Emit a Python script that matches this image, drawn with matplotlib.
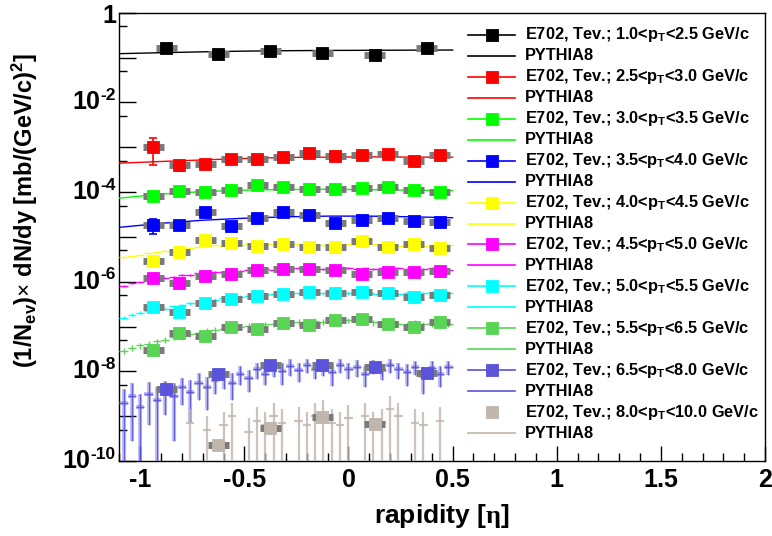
import numpy as np
import matplotlib
matplotlib.use("Agg")
import matplotlib.pyplot as plt
from matplotlib.ticker import LogLocator, MultipleLocator, FuncFormatter, NullFormatter

plt.rcParams["font.family"] = ["Liberation Sans", "DejaVu Sans"]
plt.rcParams["font.weight"] = "bold"
plt.rcParams["mathtext.fontset"] = "custom"
plt.rcParams["mathtext.rm"] = "Liberation Serif"
plt.rcParams["mathtext.bf"] = "Liberation Sans:bold"
plt.rcParams["mathtext.it"] = "Liberation Sans:italic"
plt.rcParams["mathtext.sf"] = "Liberation Sans"

# --- pT bins and colours (ROOT colours 1..9, 11)
pt_ranges = ["1.0<p$_\\mathbf{T}$<2.5", "2.5<p$_\\mathbf{T}$<3.0", "3.0<p$_\\mathbf{T}$<3.5",
             "3.5<p$_\\mathbf{T}$<4.0", "4.0<p$_\\mathbf{T}$<4.5", "4.5<p$_\\mathbf{T}$<5.0",
             "5.0<p$_\\mathbf{T}$<5.5", "5.5<p$_\\mathbf{T}$<6.5", "6.5<p$_\\mathbf{T}$<8.0",
             "8.0<p$_\\mathbf{T}$<10.0"]
colors = ["#000000", "#ff0000", "#00ff00", "#0000ff", "#ffff00", "#ff00ff",
          "#00ffff", "#59d454", "#5954d9", "#c0b6ac"]

# --- E702 data points
x_coarse = [-0.875, -0.625, -0.375, -0.125, 0.125, 0.375]
x_fine = [-0.9375, -0.8125, -0.6875, -0.5625, -0.4375, -0.3125,
          -0.1875, -0.0625, 0.0625, 0.1875, 0.3125, 0.4375]
x_last = [-0.625, -0.375, -0.125, 0.125]

e702_black = [0.161, 0.118, 0.142, 0.128, 0.112, 0.161]
e702_red = [9.9e-4, 4.0e-4, 4.2e-4, 5.45e-4, 5.45e-4, 5.94e-4, 7.3e-4, 6.35e-4, 6.7e-4, 7.05e-4, 5.0e-4, 6.8e-4]
e702_green = [8.15e-5, 1.07e-4, 9.85e-5, 1.11e-4, 1.41e-4, 1.29e-4, 1.15e-4, 1.15e-4, 1.25e-4, 1.29e-4, 1.11e-4, 9.85e-5]
e702_blue = [1.84e-5, 1.84e-5, 3.64e-5, 1.75e-5, 2.67e-5, 3.64e-5, 3.07e-5, 2.04e-5, 2.38e-5, 2.59e-5, 2.26e-5, 2.18e-5]
e702_yellow = [2.94e-6, 4.52e-6, 8.5e-6, 7.18e-6, 6.25e-6, 6.82e-6, 6.03e-6, 6.03e-6, 8.2e-6, 6.03e-6, 6.92e-6, 5.55e-6]
e702_magenta = [1.19e-6, 9.5e-7, 1.34e-6, 1.48e-6, 1.82e-6, 1.95e-6, 1.92e-6, 1.82e-6, 1.48e-6, 1.67e-6, 1.64e-6, 1.76e-6]
e702_cyan = [2.77e-7, 2.14e-7, 3.3e-7, 4.11e-7, 4.87e-7, 5.31e-7, 5.8e-7, 5.5e-7, 5.98e-7, 5.68e-7, 4.62e-7, 5.05e-7]
e702_green2 = [2.99e-8, 7.05e-8, 6.24e-8, 9.9e-8, 8.67e-8, 1.22e-7, 1.08e-7, 1.4e-7, 1.47e-7, 1.12e-7, 9.6e-8, 1.24e-7]
e702_purple = [4.04e-9, 8.7e-9, 1.38e-8, 1.38e-8, 1.23e-8, 9.3e-9]
e702_grey = [2.28e-10, 5.37e-10, 9.45e-10, 6.6e-10]

# visible vertical errors on a few points (absolute)
e702_red_err = [5.8e-4, 1.0e-4, 0, 0, 0, 0, 0, 0, 0, 0, 0, 0]
e702_blue_err = [7e-6, 0, 0, 0, 0, 0, 0, 0, 0, 0, 0, 0]

# --- PYTHIA8, smooth curves
py_x_sparse = [-1.1, -0.9, -0.7, -0.5, -0.3, -0.1, 0.1, 0.3, 0.5]
py_black = [0.122, 0.128, 0.134, 0.139, 0.142, 0.144, 0.145, 0.146, 0.147]
py_red = [4.4e-4, 4.8e-4, 5.2e-4, 5.6e-4, 5.9e-4, 6.0e-4, 6.1e-4, 6.0e-4, 6.0e-4]
py_green = [7.3e-5, 9.0e-5, 1.02e-4, 1.10e-4, 1.14e-4, 1.15e-4, 1.13e-4, 1.10e-4, 1.07e-4]
py_blue = [1.63e-5, 2.0e-5, 2.35e-5, 2.6e-5, 2.8e-5, 2.9e-5, 2.9e-5, 2.8e-5, 2.67e-5]

# --- PYTHIA8, binned (bin width 0.04, centres -1.08 ... 0.48), log10 values
py_bin_x = [-1.08, -1.04, -1.00, -0.96, -0.92, -0.88, -0.84, -0.80, -0.76, -0.72,
            -0.68, -0.64, -0.60, -0.56, -0.52, -0.48, -0.44, -0.40, -0.36, -0.32,
            -0.28, -0.24, -0.20, -0.16, -0.12, -0.08, -0.04, 0.00, 0.04, 0.08,
            0.12, 0.16, 0.20, 0.24, 0.28, 0.32, 0.36, 0.40, 0.44, 0.48]
py_yellow_log = [-5.44, -5.42, -5.40, -5.37, -5.34, -5.31, -5.29, -5.26, -5.24, -5.22,
                 -5.21, -5.19, -5.20, -5.18, -5.19, -5.17, -5.18, -5.17, -5.16, -5.18,
                 -5.17, -5.16, -5.18, -5.17, -5.18, -5.16, -5.18, -5.17, -5.19, -5.18,
                 -5.17, -5.19, -5.18, -5.20, -5.19, -5.18, -5.20, -5.19, -5.21, -5.19]
py_magenta_log = [-6.09, -6.04, -6.00, -5.97, -5.95, -5.91, -5.90, -5.86, -5.85, -5.81,
                  -5.82, -5.78, -5.79, -5.76, -5.77, -5.74, -5.75, -5.72, -5.73, -5.71,
                  -5.72, -5.70, -5.72, -5.69, -5.71, -5.70, -5.68, -5.70, -5.72, -5.69,
                  -5.71, -5.69, -5.71, -5.70, -5.72, -5.70, -5.71, -5.69, -5.71, -5.73]
py_cyan_log = [-6.80, -6.74, -6.69, -6.66, -6.61, -6.60, -6.55, -6.53, -6.48, -6.47,
               -6.42, -6.40, -6.37, -6.36, -6.34, -6.33, -6.31, -6.30, -6.28, -6.29,
               -6.27, -6.26, -6.27, -6.25, -6.26, -6.24, -6.26, -6.25, -6.23, -6.25,
               -6.27, -6.24, -6.26, -6.28, -6.25, -6.27, -6.26, -6.24, -6.26, -6.25]
py_green2_log = [-7.54, -7.47, -7.42, -7.38, -7.33, -7.30, -7.24, -7.22, -7.17, -7.15,
                 -7.10, -7.08, -7.06, -7.03, -7.01, -6.99, -6.98, -6.95, -6.94, -6.92,
                 -6.93, -6.90, -6.91, -6.88, -6.90, -6.87, -6.89, -6.86, -6.90, -6.88,
                 -6.91, -6.93, -6.90, -6.94, -6.96, -6.92, -6.95, -6.93, -6.96, -6.94]
py_purple_log = [-8.70, -8.55, -8.80, -8.50, -8.65, -8.45, -8.55, -8.35, -8.45, -8.25,
                 -8.35, -8.20, -8.10, -8.25, -8.05, -8.15, -7.95, -8.05, -7.90, -8.00,
                 -7.88, -7.98, -7.85, -7.95, -7.88, -8.02, -7.86, -7.95, -7.90, -8.05,
                 -7.88, -7.98, -7.86, -7.95, -8.02, -7.90, -8.10, -7.92, -8.05, -7.90]
py_purple_relerr = [1.0, 0.9, 1.0, 0.8, 1.0, 0.7, 0.9, 0.6, 0.8, 0.6,
                    0.7, 0.5, 0.5, 0.6, 0.45, 0.5, 0.4, 0.45, 0.4, 0.5,
                    0.4, 0.45, 0.35, 0.4, 0.4, 0.5, 0.35, 0.4, 0.4, 0.5,
                    0.35, 0.4, 0.35, 0.4, 0.5, 0.35, 0.6, 0.4, 0.5, 0.35]
nan = float("nan")
py_grey_log = [nan, nan, nan, nan, nan, nan, nan, nan, -9.15, nan,
               -9.30, nan, -9.20, -9.00, nan, -9.35, -9.10, -9.20, -9.00, -9.15,
               nan, -9.10, -9.20, -9.00, -8.95, -9.15, -9.20, -9.05, nan, -9.00,
               -9.20, -9.15, -8.85, -9.00, nan, -9.15, -9.20, nan, -9.10, nan]
relerr_small = {"yellow": 0.03, "magenta": 0.05, "cyan": 0.08, "green2": 0.15, "grey": 1.0}

# y tick labels (only even decades are labelled)
ytick_decades = [0, -2, -4, -6, -8, -10]

# --- figure
fig = plt.figure(figsize=(7.72, 5.36), dpi=100)
W, H = 772, 536
x0, x1, ytop, ybot = 119.4, 765, 12.7, 461
ax = fig.add_axes([x0 / W, 1 - ybot / H, (x1 - x0) / W, (ybot - ytop) / H])
ax.set_yscale("log")
ax.set_xlim(-1.1, 2.0)
ax.set_ylim(1e-10, 1)

grey_bar = "#7a7a7a"


def draw_e702(xs, ys, color, yerr=None):
    ax.errorbar(xs, ys, xerr=0.05, fmt="none", ecolor=grey_bar, elinewidth=5, zorder=4)
    if yerr is not None:
        ax.errorbar(xs, ys, yerr=yerr, fmt="none", ecolor=color, elinewidth=1.2,
                    capsize=3, capthick=1.2, zorder=4)
    ax.plot(xs, ys, "s", color=color, ms=9, mew=0.6, mec=color, zorder=5)


def draw_binned(log_vals, color, relerr, lw=1.0, alpha=1.0):
    y = 10 ** np.array(log_vals)
    rel = np.array(relerr) * np.ones_like(y)
    up = y * rel
    lo = y * np.minimum(rel, 0.999)
    ax.errorbar(py_bin_x, y, xerr=0.02, yerr=[lo, up], fmt="none", ecolor=color,
                elinewidth=lw, alpha=alpha, zorder=3)


# PYTHIA smooth
for vals, c in zip([py_black, py_red, py_green, py_blue], colors[:4]):
    ax.plot(py_x_sparse, vals, "-", color=c, lw=1.0, zorder=3)

draw_binned(py_yellow_log, colors[4], relerr_small["yellow"])
draw_binned(py_magenta_log, colors[5], relerr_small["magenta"])
draw_binned(py_cyan_log, colors[6], relerr_small["cyan"])
draw_binned(py_green2_log, colors[7], relerr_small["green2"])
draw_binned(py_purple_log, colors[8], py_purple_relerr, lw=3, alpha=0.35)
draw_binned(py_purple_log, colors[8], py_purple_relerr, lw=1.0, alpha=0.9)
draw_binned(py_grey_log, colors[9], relerr_small["grey"], lw=1.6, alpha=0.8)

# E702
draw_e702(x_coarse, e702_black, colors[0])
draw_e702(x_fine, e702_red, colors[1], e702_red_err)
draw_e702(x_fine, e702_green, colors[2])
draw_e702(x_fine, e702_blue, colors[3], e702_blue_err)
draw_e702(x_fine, e702_yellow, colors[4])
draw_e702(x_fine, e702_magenta, colors[5])
draw_e702(x_fine, e702_cyan, colors[6])
draw_e702(x_fine, e702_green2, colors[7])
draw_e702(x_coarse, e702_purple, colors[8])
draw_e702(x_last, e702_grey, colors[9])

# --- axes style (ROOT look)
ax.xaxis.set_major_locator(MultipleLocator(0.5))
ax.xaxis.set_minor_locator(MultipleLocator(0.1))
ax.xaxis.set_major_formatter(FuncFormatter(lambda v, p: f"{v:g}"))
ax.yaxis.set_major_locator(LogLocator(base=10, numticks=30))
ax.yaxis.set_minor_locator(LogLocator(base=10, subs=[5], numticks=30))
ax.yaxis.set_major_formatter(NullFormatter())
ax.yaxis.set_minor_formatter(NullFormatter())
ax.tick_params(which="both", direction="in", top=False, right=False, width=1)
ax.tick_params(axis="x", labelsize=18)
ax.tick_params(axis="y", which="major", length=12)
ax.tick_params(axis="y", which="minor", length=6)
ax.tick_params(axis="x", which="major", length=11, pad=5)
ax.tick_params(axis="x", which="minor", length=6)
for s in ax.spines.values():
    s.set_linewidth(1.0)

# y labels ROOT style: "10" with a small exponent, right aligned near the axis
ylab_tr = ax.get_yaxis_transform()
for e in ytick_decades:
    if e == 0:
        ax.annotate("1", xy=(0, 10.0 ** e), xycoords=ylab_tr, xytext=(-3, -3),
                    textcoords="offset pixels", fontsize=18, ha="right", va="center",
                    annotation_clip=False)
        continue
    ex = ax.annotate(str(e), xy=(0, 10.0 ** e), xycoords=ylab_tr,
                     xytext=(-4, 7), textcoords="offset pixels",
                     fontsize=12.5, ha="right", va="center", annotation_clip=False)
    ax.annotate("10", xy=(0, 0.5), xycoords=ex, xytext=(0, -7), textcoords="offset pixels",
                fontsize=18, ha="right", va="center", annotation_clip=False)

fig.text(442 / W, 1 - 516 / H, "rapidity [$\\mathrm{\\eta}$]", fontsize=19,
         ha="center", va="center")
fig.text(25 / W, 1 - 210 / H,
         "(1/N$_{\\mathbf{ev}}$)$\\times$ dN/dy [mb/(GeV/c)$^{\\mathbf{2}}$]",
         fontsize=17, rotation=90, ha="center", va="center")


# --- legend drawn by hand (ROOT TLegend, no border)
def px2ax(px, py):
    return (px - x0) / (x1 - x0), 1 - (py - ytop) / (ybot - ytop)


for i in range(10):
    for k in range(2):
        py = 35 + 20.95 * (2 * i + k)
        xa, ya = px2ax(468, py)
        xb, _ = px2ax(515, py)
        xm, _ = px2ax(491.7, py)
        xt, _ = px2ax(525, py)
        c = colors[i]
        if k == 0:
            if i < 9:
                ax.plot([xa, xb], [ya, ya], "-", color=c, lw=1.2, transform=ax.transAxes, clip_on=False)
            ax.plot([xm], [ya], "s", color=c, ms=9, mew=0.6, mec=c, transform=ax.transAxes, clip_on=False)
            label = "E702, Tev.; " + pt_ranges[i] + " GeV/c"
        else:
            ax.plot([xa, xb], [ya, ya], "-", color=c, lw=1.2, transform=ax.transAxes, clip_on=False)
            label = "PYTHIA8"
        ax.text(xt, ya, label, transform=ax.transAxes, fontsize=11.8, ha="left", va="center")

fig.savefig("out.png", dpi=100)
